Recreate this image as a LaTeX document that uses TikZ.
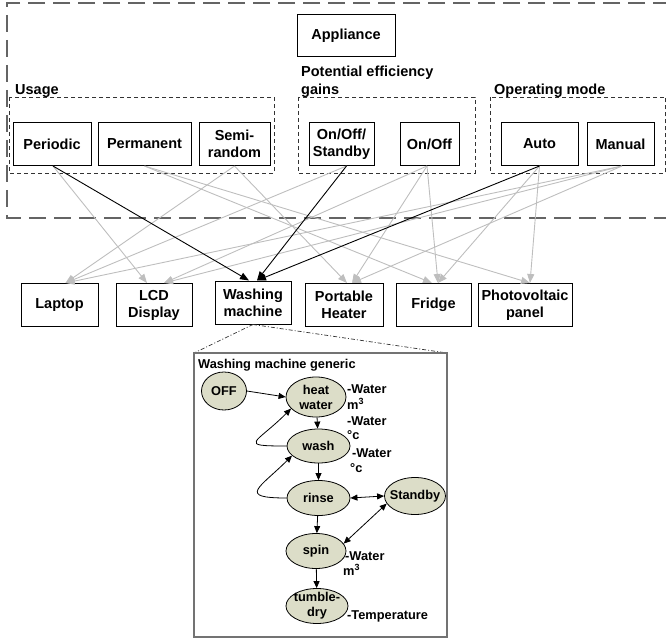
\documentclass[tikz,border=0pt]{standalone}
\usepackage{fontspec}
\setmainfont{Liberation Sans}
\usetikzlibrary{arrows.meta,shapes.geometric}
\definecolor{ellfill}{RGB}{220,221,200}
\definecolor{lgray}{RGB}{190,190,190}
\definecolor{dgray}{RGB}{100,100,100}
\begin{document}
\begin{tikzpicture}[x=1pt,y=-1pt,
 box/.style={draw=black,line width=1pt,inner sep=0pt,align=center,minimum height=43pt,font=\fontsize{14.5}{17}\selectfont\bfseries},
 grp/.style={draw=black!80,line width=0.8pt,dash pattern=on 4pt off 3pt},
 lbl/.style={anchor=base west,inner sep=0pt,font=\fontsize{14.5}{17}\selectfont\bfseries},
 garrow/.style={draw=lgray,line width=0.9pt,-{Triangle[length=9pt,width=7pt]}},
 barrow/.style={draw=black,line width=0.9pt,-{Triangle[length=9pt,width=7pt]}},
 st/.style={ellipse,draw=black,line width=0.8pt,fill=ellfill,inner sep=-6pt,align=center,font=\fontsize{12.8}{15}\selectfont\bfseries},
 ann/.style={anchor=base west,inner sep=0pt,font=\fontsize{12.8}{15}\selectfont\bfseries},
 iarrow/.style={draw=black,line width=0.8pt,-{Triangle[length=7pt,width=6pt]}},
 darrow/.style={draw=black,line width=0.8pt,{Triangle[length=7pt,width=6pt]}-{Triangle[length=7pt,width=6pt]}},
 zoomline/.style={draw=black!80,line width=0.7pt,dash pattern=on 4pt off 2pt on 1pt off 2pt},
]
\useasboundingbox (0,0) rectangle (666,639);

% outer dashed frame
\draw[dgray,line width=2.5pt,dash pattern=on 17pt off 8pt] (670,3) -- (7,3) -- (7,218) -- (670,218);

% group boxes
\draw[grp] (9,97) rectangle (274,173);
\draw[grp] (298,97) rectangle (475,173);
\draw[grp] (490,97) rectangle (665.5,173);
\node[lbl] (lusage) at (15,95) {Usage};
\node[lbl] (lpeg1) at (301,77) {Potential efficiency};
\node[lbl] (lpeg2) at (301,95) {gains};
\node[lbl] (lop) at (494,95) {Operating mode};

% appliance
\node[box,minimum width=98pt,minimum height=42pt] (app) at (346,36) {Appliance};

% top row
\node[box,minimum width=78pt] (periodic) at (52,144) {Periodic};
\node[box,minimum width=93pt] (permanent) at (144.5,144) {Permanent};
\node[box,minimum width=71pt] (semi) at (234.5,144) {Semi-\\random};
\node[box,minimum width=65pt] (oos) at (341.5,144) {On/Off/\\Standby};
\node[box,minimum width=59pt] (onoff) at (429.5,144) {On/Off};
\node[box,minimum width=77pt] (auto) at (539.5,144) {Auto};
\node[box,minimum width=67pt] (manual) at (620.5,144) {Manual};

% bottom row
\node[box,minimum width=77pt] (laptop) at (59.5,305) {Laptop};
\node[box,minimum width=76pt] (lcd) at (154,305) {LCD\\Display};
\node[box,minimum width=76pt] (washing) at (253,302.5) {Washing\\machine};
\node[box,minimum width=78pt] (heater) at (344,305) {Portable\\Heater};
\node[box,minimum width=75pt] (fridge) at (433.5,305) {Fridge};
\node[box,minimum width=94pt] (pv) at (525,305) {Photovoltaic\\panel};

% gray connectors
\draw[garrow] ([xshift=1pt]periodic.south) -- ([xshift=-7pt]lcd.north);
\draw[garrow] (permanent.south) -- ([xshift=-1.5pt]fridge.north);
\draw[garrow] (permanent.south) -- ([xshift=5pt]pv.north);
\draw[garrow] (semi.south) -- ([xshift=6pt]laptop.north);
\draw[garrow] (semi.south) -- ([xshift=3pt]heater.north);
\draw[garrow] ([xshift=5pt]oos.south) -- ([xshift=6pt]laptop.north);
\draw[garrow] ([xshift=-2.5pt]onoff.south) -- ([xshift=10pt]lcd.north);
\draw[garrow] ([xshift=-2.5pt]onoff.south) -- ([xshift=8pt]heater.north);
\draw[garrow] ([xshift=-2.5pt]onoff.south) -- ([xshift=4.5pt]fridge.north);
\draw[garrow] (auto.south) -- ([xshift=4.5pt]fridge.north);
\draw[garrow] (auto.south) -- ([xshift=5pt]pv.north);
\draw[garrow] ([xshift=1.5pt]manual.south) -- ([xshift=6pt]laptop.north);
\draw[garrow] ([xshift=1.5pt]manual.south) -- ([xshift=10pt]lcd.north);
\draw[garrow] ([xshift=1.5pt]manual.south) -- ([xshift=8pt]heater.north);

% black connectors
\draw[barrow] ([xshift=1pt]periodic.south) -- ([xshift=-4pt]washing.north);
\draw[barrow] ([xshift=5pt]oos.south) -- ([xshift=4pt]washing.north);
\draw[barrow] (auto.south) -- ([xshift=4pt]washing.north);

% zoom frame
\coordinate (fl) at (194,353);
\coordinate (fr) at (447,353);
\draw[zoomline] (washing.south) -- (fl);
\draw[zoomline] (washing.south) -- (fr);
\draw[black!55,line width=1.3pt] (fl) rectangle (447,637);
\node[ann] (gen) at (198,368) {Washing machine generic};

% states
\node[st,minimum width=45pt,minimum height=38pt] (off) at (224,391) {OFF};
\node[st,minimum width=60pt,minimum height=40pt] (heat) at (316,397) {heat\\water};
\node[st,minimum width=63pt,minimum height=34pt] (wash) at (318.5,446) {wash};
\node[st,minimum width=63pt,minimum height=35pt] (rinse) at (318.5,498) {rinse};
\node[st,minimum width=61pt,minimum height=37pt] (standby) at (415,496) {Standby};
\node[st,minimum width=60pt,minimum height=35pt] (spin) at (316,551) {spin};
\node[st,minimum width=62pt,minimum height=35pt] (tumble) at (317,606) {tumble-\\dry};

% annotations
\node[ann] (a1) at (347,393) {-Water};
\node[ann] (a2) at (347,409) {m\textsuperscript{3}};
\node[ann] (a3) at (347,425) {-Water};
\node[ann] (a4) at (347,439) {°c};
\node[ann] (a5) at (352,457) {-Water};
\node[ann] (a6) at (350,472) {°c};
\node[ann] (a7) at (345,560) {-Water};
\node[ann] (a8) at (343,575) {m\textsuperscript{3}};
\node[ann] (a9) at (347,619) {-Temperature};

% state arrows
\draw[iarrow] (off.east) -- (heat.west);
\draw[iarrow] (heat) -- (wash);
\draw[iarrow] (wash) -- (rinse);
\draw[iarrow] (rinse) -- (spin);
\draw[iarrow] (spin) -- (tumble);
\draw[iarrow] (wash.west) .. controls +(-50,0) and +(-35,35) .. (heat.205);
\draw[iarrow] (rinse.west) .. controls +(-50,0) and +(-32,32) .. (wash.200);
\draw[darrow] (rinse.east) -- (standby.west);
\draw[darrow] (standby.195) -- (spin.15);
\end{tikzpicture}
\end{document}
